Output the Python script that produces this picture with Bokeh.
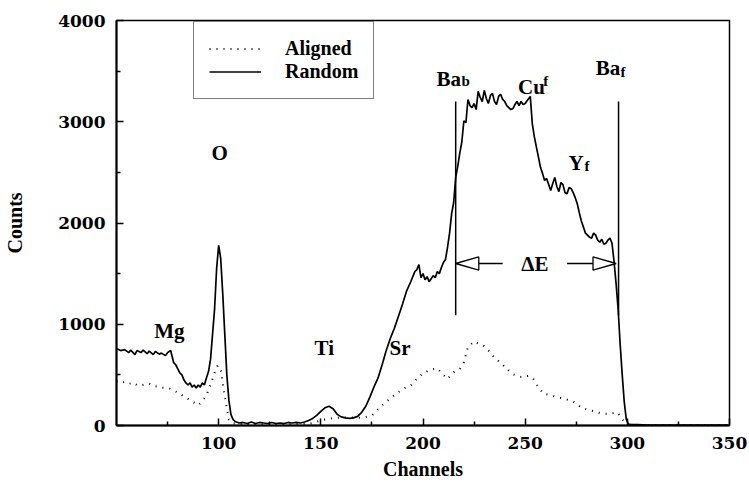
from bokeh.plotting import figure
from bokeh.models import Range1d, FixedTicker, Legend, LegendItem
from bokeh.core.properties import value
from bokeh.embed import file_html
from bokeh.resources import INLINE

# Random (solid) spectrum: channel, counts
random_ch = [50, 52, 54, 56, 57, 59, 60, 62, 63, 65, 66, 68, 69, 71, 72, 74, 75, 76.5, 78, 79,
             80, 81, 82, 83, 84, 85, 86, 87, 88, 89, 90, 91, 92, 93, 94, 95, 96, 97, 98, 99,
             100, 101, 102, 103, 104, 105, 106, 107, 108, 110, 112, 114, 116, 118, 120, 122,
             124, 126, 128, 130, 132, 134, 136, 138, 140, 142, 144, 146, 148, 150, 152, 154,
             156, 158, 160, 162, 164, 166, 168, 170, 172, 174, 176, 178, 180, 182, 184, 186,
             188, 190, 192, 194, 196, 197, 198, 199, 200, 201, 202, 203, 204, 205, 206, 207,
             208, 209, 210, 211, 212, 213, 214, 215, 216, 217, 218, 219, 220, 221, 222, 223,
             224, 225, 226, 227, 228, 229, 230, 231, 232, 233, 234, 235, 236, 237, 238, 239,
             240, 241, 242, 243, 244, 245, 246, 247, 248, 249, 250, 251, 252.5, 253.5, 254.5,
             255.5, 256.5, 257.5, 258.5, 259.5, 260.5, 261.5, 262.5, 263.5, 264.5, 265.5,
             266.5, 267.5, 268.5, 269.5, 270.5, 271.5, 272.5, 273.5, 274.5, 275.5, 276.5,
             277.5, 278.5, 279.5, 280.5, 281.5, 282.5, 283.5, 284.5, 285.5, 286.5, 287.5,
             288.5, 289.5, 290.5, 291.5, 292.5, 293.5, 294.5, 295.5, 296.5, 297.5, 298.5,
             299.5, 300.5, 302, 305, 310, 320, 330, 340, 350]
random_counts = [760, 740, 750, 720, 745, 700, 740, 720, 745, 710, 735, 700, 730, 705, 715, 690,
                 720, 740, 620, 600, 560, 520, 500, 450, 420, 400, 420, 380, 400, 370, 400, 380,
                 420, 400, 470, 530, 650, 900, 1150, 1550, 1780, 1650, 1300, 900, 500, 250, 110,
                 60, 40, 25, 30, 20, 35, 20, 30, 25, 20, 30, 20, 25, 20, 30, 25, 30, 25, 35, 50,
                 70, 100, 140, 175, 190, 165, 110, 85, 75, 70, 75, 90, 130, 190, 280, 380, 470,
                 600, 740, 860, 960, 1080, 1200, 1330, 1420, 1520, 1540, 1590, 1460, 1500, 1440,
                 1470, 1420, 1450, 1480, 1460, 1520, 1500, 1560, 1610, 1640, 1760, 1900, 2090,
                 2200, 2450, 2560, 2690, 2800, 3010, 2990, 3220, 3160, 3140, 3180, 3120, 3300,
                 3240, 3200, 3310, 3230, 3180, 3260, 3280, 3200, 3170, 3250, 3270, 3220, 3200,
                 3160, 3140, 3120, 3130, 3170, 3200, 3160, 3200, 3170, 3180, 3210, 3250, 2980,
                 2850, 2750, 2650, 2550, 2490, 2420, 2440, 2380, 2320, 2390, 2450, 2360, 2310,
                 2400, 2380, 2300, 2290, 2350, 2340, 2300, 2250, 2190, 2100, 2020, 1960, 1900,
                 1880, 1860, 1850, 1900, 1880, 1830, 1810, 1840, 1790, 1800, 1830, 1850, 1800,
                 1620, 1400, 1150, 800, 500, 230, 60, 15, 10, 10, 5, 5, 5, 5, 5]

# Aligned (dotted) spectrum: channel, counts
aligned_ch = [50, 52, 54, 56, 58, 60, 62, 64, 66, 68, 70, 72, 74, 76, 78, 80, 82, 84, 86, 88,
              90, 92, 94, 96, 98, 99.5, 101, 102.5, 104, 105, 107, 110, 115, 120, 125, 130,
              135, 140, 145, 150, 155, 160, 165, 170, 175, 180, 183, 186, 190, 194, 197, 200,
              203, 207, 209.5, 212, 215, 218, 220, 222, 225, 227, 229.5, 232, 235, 238, 241,
              244, 248, 251.5, 254, 256.5, 259, 262, 266, 270, 274, 278, 282, 287, 291, 295,
              297.5, 299, 302, 350]
aligned_counts = [435, 420, 430, 410, 425, 400, 395, 410, 415, 390, 385, 375, 370, 365, 345,
                  325, 300, 275, 250, 225, 200, 240, 300, 400, 520, 590, 560, 350, 170, 60, 20,
                  15, 15, 10, 15, 10, 15, 15, 20, 50, 70, 80, 80, 75, 100, 200, 250, 300, 360,
                  395, 460, 515, 545, 565, 510, 460, 525, 560, 625, 775, 830, 810, 790, 740,
                  670, 620, 560, 505, 480, 490, 460, 375, 315, 300, 280, 260, 230, 170, 150, 120,
                  115, 130, 70, 15, 5, 5]

# Element edge labels (main text) and their small sub/superscript parts
label_text = ["O", "Mg", "Ti", "Sr", "Ba", "Cu", "Y", "Ba"]
label_x = [96.5, 68.5, 146.9, 183.6, 206.6, 246.5, 271.2, 284.5]
label_y = [2696, 938, 770, 770, 3427, 3348, 2597, 3526]
small_text = ["b", "f", "f", "f"]
small_x = [218.9, 258.8, 279.0, 296.7]
small_y = [3400, 3400, 2560, 3490]

# Front and back Ba edge markers and the energy-width arrows between them
ba_back_ch = 216.0
ba_front_ch = 295.7
edge_line_bottom = 1090
edge_line_top = 3200
arrow_counts = 1600
arrow_left_tip = 216.0
arrow_right_tip = 294.5
arrow_left_shaft_end = 239.0
arrow_right_shaft_start = 270.5
head_len = 11.3      # channels
head_half = 65       # counts

SERIF = "'Liberation Serif', 'Times New Roman', serif"
TICK_FONT = "'DejaVu Serif', serif"

p = figure(width=749, height=485, output_backend="svg", toolbar_location=None,
           x_range=Range1d(50, 350), y_range=Range1d(0, 4000),
           min_border_left=116, min_border_right=20, min_border_top=20,
           min_border_bottom=60)
p.background_fill_color = "white"
p.border_fill_color = "white"
p.grid.visible = False
p.outline_line_color = "black"
p.outline_line_width = 1.5

p.xaxis.ticker = FixedTicker(ticks=[100, 150, 200, 250, 300, 350],
                             minor_ticks=[75, 125, 175, 225, 275, 325])
p.yaxis.ticker = FixedTicker(ticks=[0, 1000, 2000, 3000, 4000],
                             minor_ticks=[500, 1500, 2500, 3500])
for ax in (p.xaxis[0], p.yaxis[0]):
    ax.axis_line_color = "black"
    ax.axis_line_width = 2
    ax.major_tick_in = 7
    ax.major_tick_out = 0
    ax.minor_tick_in = 4
    ax.minor_tick_out = 0
    ax.major_tick_line_width = 1.5
    ax.minor_tick_line_width = 1.5
    ax.major_label_text_font = TICK_FONT
    ax.major_label_text_font_style = "bold"
    ax.major_label_text_font_size = "17px"
    ax.major_label_text_color = "black"
    ax.axis_label_text_font = SERIF
    ax.axis_label_text_font_style = "bold"
    ax.axis_label_text_font_size = "20px"
    ax.axis_label_text_color = "black"

p.xaxis.axis_label = "Channels"
p.yaxis.axis_label = "Counts"
p.xaxis.major_label_standoff = 11
p.xaxis.axis_label_standoff = 6
p.yaxis.major_label_standoff = 11
p.yaxis.axis_label_standoff = 29

aligned = p.line(aligned_ch, aligned_counts, line_color="black", line_width=2,
                 line_dash="1 6")
rand = p.line(random_ch, random_counts, line_color="black", line_width=1.7)

# Edge markers
p.segment(x0=[ba_back_ch, ba_front_ch], y0=[edge_line_bottom] * 2,
          x1=[ba_back_ch, ba_front_ch], y1=[edge_line_top] * 2,
          line_color="black", line_width=1.5)

# Delta-E arrows: shafts and open triangular heads
p.segment(x0=[arrow_left_tip + head_len, arrow_right_shaft_start],
          y0=[arrow_counts] * 2,
          x1=[arrow_left_shaft_end, arrow_right_tip - head_len],
          y1=[arrow_counts] * 2, line_color="black", line_width=1.3)
heads_x = [[arrow_left_tip, arrow_left_tip + head_len, arrow_left_tip + head_len],
           [arrow_right_tip, arrow_right_tip - head_len, arrow_right_tip - head_len]]
heads_y = [[arrow_counts, arrow_counts + head_half, arrow_counts - head_half]] * 2
p.patches(heads_x, heads_y, fill_color="white", line_color="black", line_width=1.3)
p.text(x=[(arrow_left_shaft_end + arrow_right_shaft_start) / 2], y=[arrow_counts],
       text=["\u0394E"], text_font=value(SERIF), text_font_style="bold",
       text_font_size="21px", text_align="center", text_baseline="middle",
       text_color="black")

# Element labels
p.text(x=label_x, y=label_y, text=label_text, text_font=value(SERIF),
       text_font_style="bold", text_font_size="21px", text_align="left",
       text_baseline="middle", text_color="black")
p.text(x=small_x, y=small_y, text=small_text, text_font=value(SERIF),
       text_font_style="bold", text_font_size="15px", text_align="left",
       text_baseline="middle", text_color="black")

legend = Legend(items=[LegendItem(label="Aligned", renderers=[aligned]),
                       LegendItem(label="Random", renderers=[rand])],
                location=(77, 326))
legend.label_text_font = SERIF
legend.label_text_font_style = "bold"
legend.label_text_font_size = "20px"
legend.label_text_color = "black"
legend.glyph_width = 52
legend.glyph_height = 19
legend.label_height = 19
legend.label_standoff = 24
legend.padding = 15
legend.spacing = 0
legend.margin = 0
legend.border_line_color = "black"
legend.border_line_width = 1.5
legend.background_fill_color = "white"
legend.background_fill_alpha = 1.0
p.add_layout(legend)

open("out.html", "w").write(file_html(p, INLINE))
